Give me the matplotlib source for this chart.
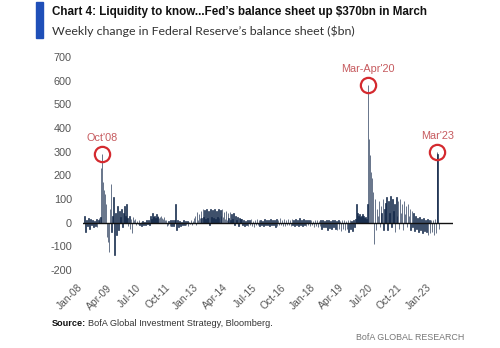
import matplotlib
matplotlib.use("Agg")
import matplotlib.pyplot as plt
import pandas as pd
from matplotlib.patches import Rectangle

# Semi-monthly (1st / 15th) readings of weekly change in Fed balance sheet, $bn
v2008 = [30, -40, 10, -15, 20, -25, 15, -10, 12, -18, 8, -12, 15, -20, 10, 18, 25, 230, 290, 170, 140, 120, 80, -60]
v2009 = [-80, -125, 60, 165, -40, 30, 110, -135, 40, -50, 70, -30, 50, 25, 60, -20, 40, 70, 30, 80, 20, -15, 30, -25]
v2010 = [15, -45, 25, 10, 15, -10, 8, -5, 10, -8, 5, -12, 8, -10, 5, -8, 10, -5, 12, -10, 30, 15, 40, 25]
v2011 = [30, 20, 35, 25, 30, 20, 25, 30, 20, 15, 25, 10, 10, -15, -10, 8, -12, 10, -15, 10, -15, 10, 80, -30]
v2012 = [10, -20, 8, -12, 5, -10, 10, -8, 6, -10, 8, -12, 5, -6, 10, -10, 6, 20, 30, -10, 45, 10, 35, 20]
v2013 = [50, 20, 60, 25, 55, 15, 60, 20, 50, -10, 60, 25, 55, 20, 60, 15, 50, 25, 60, 20, 55, 30, 60, 25]
v2014 = [45, 15, 50, 10, 40, 20, 45, 10, 35, 15, 40, -10, 30, 10, 25, -15, 20, 15, 15, -10, 10, -12, 8, -10]
v2015 = [12, -15, 10, -8, 15, -12, 8, -20, 12, -10, 15, -8, 10, -15, 12, -10, 8, -12, 15, -10, 12, -8, 10, -15]
v2016 = [15, -10, 12, -8, 10, -20, 15, -12, 12, -10, 18, -8, 10, -15, 15, -12, 12, -10, 15, -8, 10, -12, 15, -10]
v2017 = [12, -15, 15, -10, 10, -12, 18, -8, 12, -15, 15, -10, 12, -12, 10, -8, 12, -15, 10, -10, 8, -18, 12, -15]
v2018 = [10, -20, 8, -15, 12, -25, 10, -18, 8, -20, 12, -30, 10, -22, 8, -25, 10, -20, 12, -28, 8, -30, 10, -25]
v2019 = [8, -35, 10, -25, 12, -30, 8, -28, 10, -40, 12, -25, 8, -35, 10, -20, 15, 80, 40, 30, 35, 25, 30, 35]
v2020 = [30, 20, 25, 15, 80, 583, 353, 285, 215, 190, 130, -90, 100, -30, 60, 30, 90, -20, 70, 40, 100, -30, 60, 85]
v2021 = [110, -30, 90, 40, 115, -20, 100, 50, 80, -40, 110, 30, 90, -25, 100, 40, 80, -30, 90, 35, 70, -20, 80, 30]
v2022 = [60, -30, 50, -20, 40, -35, 30, -25, 20, -40, 25, -30, 15, -45, 20, -35, 10, -40, 15, -50, 10, -45, 12, -40]
v2023 = [10, -50, 15, -45, 297, 292, -28]

values = v2008 + v2009 + v2010 + v2011 + v2012 + v2013 + v2014 + v2015 + v2016 + v2017 + v2018 + v2019 + v2020 + v2021 + v2022 + v2023
dates = pd.date_range("2008-01-01", periods=len(values), freq="SMS")

tick_dates = pd.date_range("2008-01-01", "2023-01-01", freq="15MS")
tick_labels = [d.strftime("%b-%y") for d in tick_dates]
y_ticks = [-200, -100, 0, 100, 200, 300, 400, 500, 600, 700]

annotations = [("Oct'08", "2008-10-01", 290), ("Mar-Apr'20", "2020-03-15", 583), ("Mar'23", "2023-03-08", 297)]

navy = "#13284a"
red = "#d42a2f"
label_red = "#c65a5e"
gray = "#555555"
SANS = "Liberation Sans"

fig = plt.figure(figsize=(5.0, 3.48), dpi=100)
ax = fig.add_axes([0.166, 0.224, 0.74, 0.612])

ax.bar(dates, values, width=9, color=navy, edgecolor=navy, linewidth=0.45)
ax.axhline(0, color="#111111", lw=1.0, zorder=3)

ax.set_ylim(-200, 700)
ax.set_xlim(pd.Timestamp("2007-12-05"), pd.Timestamp("2023-11-10"))
ax.set_yticks(y_ticks)
ax.set_yticklabels([str(t) for t in y_ticks], fontsize=7.8, color=gray, family=SANS)
ax.set_xticks(tick_dates)
ax.set_xticklabels(tick_labels, rotation=45, ha="right", fontsize=7.4, color=gray, family=SANS)
ax.tick_params(axis="both", length=0)
ax.tick_params(axis="x", pad=9)
ax.tick_params(axis="y", pad=8)
for s in ax.spines.values():
    s.set_visible(False)

for lab, d, val in annotations:
    ax.plot(pd.Timestamp(d), val, marker="o", markersize=11, markerfacecolor="none",
            markeredgecolor=red, markeredgewidth=1.6, zorder=5)
    ax.annotate(lab, (pd.Timestamp(d), val), xytext=(0, 8), textcoords="offset points",
                ha="center", va="bottom", fontsize=7.8, color=label_red, family=SANS)

# header
fig.patches.append(Rectangle((36 / 500, 1 - 38 / 348), 7 / 500, 36 / 348, transform=fig.transFigure,
                             color="#1f4fb8", zorder=1))
fig.text(52 / 500, 1 - 12 / 348, "Chart 4: Liquidity to know...Fed\u2019s balance sheet up $370bn in March",
         fontsize=8.4, fontweight="bold", family=SANS, color="#111111", va="center")
fig.text(52 / 500, 1 - 31 / 348, "Weekly change in Federal Reserve\u2019s balance sheet ($bn)",
         fontsize=8.9, family="Lato", color="#333333", va="center")

fig.text(52 / 500, 1 - 323 / 348, "Source:", fontsize=6.6, fontweight="bold",
         family=SANS, color="#111111", va="center")
fig.text(88 / 500, 1 - 323 / 348, "BofA Global Investment Strategy, Bloomberg.", fontsize=6.6,
         family=SANS, color="#333333", va="center")
fig.text(464 / 500, 1 - 338 / 348, "BofA GLOBAL RESEARCH", fontsize=6.4, ha="right",
         family=SANS, color="#777777", va="center")

fig.savefig("out.png", dpi=100)
